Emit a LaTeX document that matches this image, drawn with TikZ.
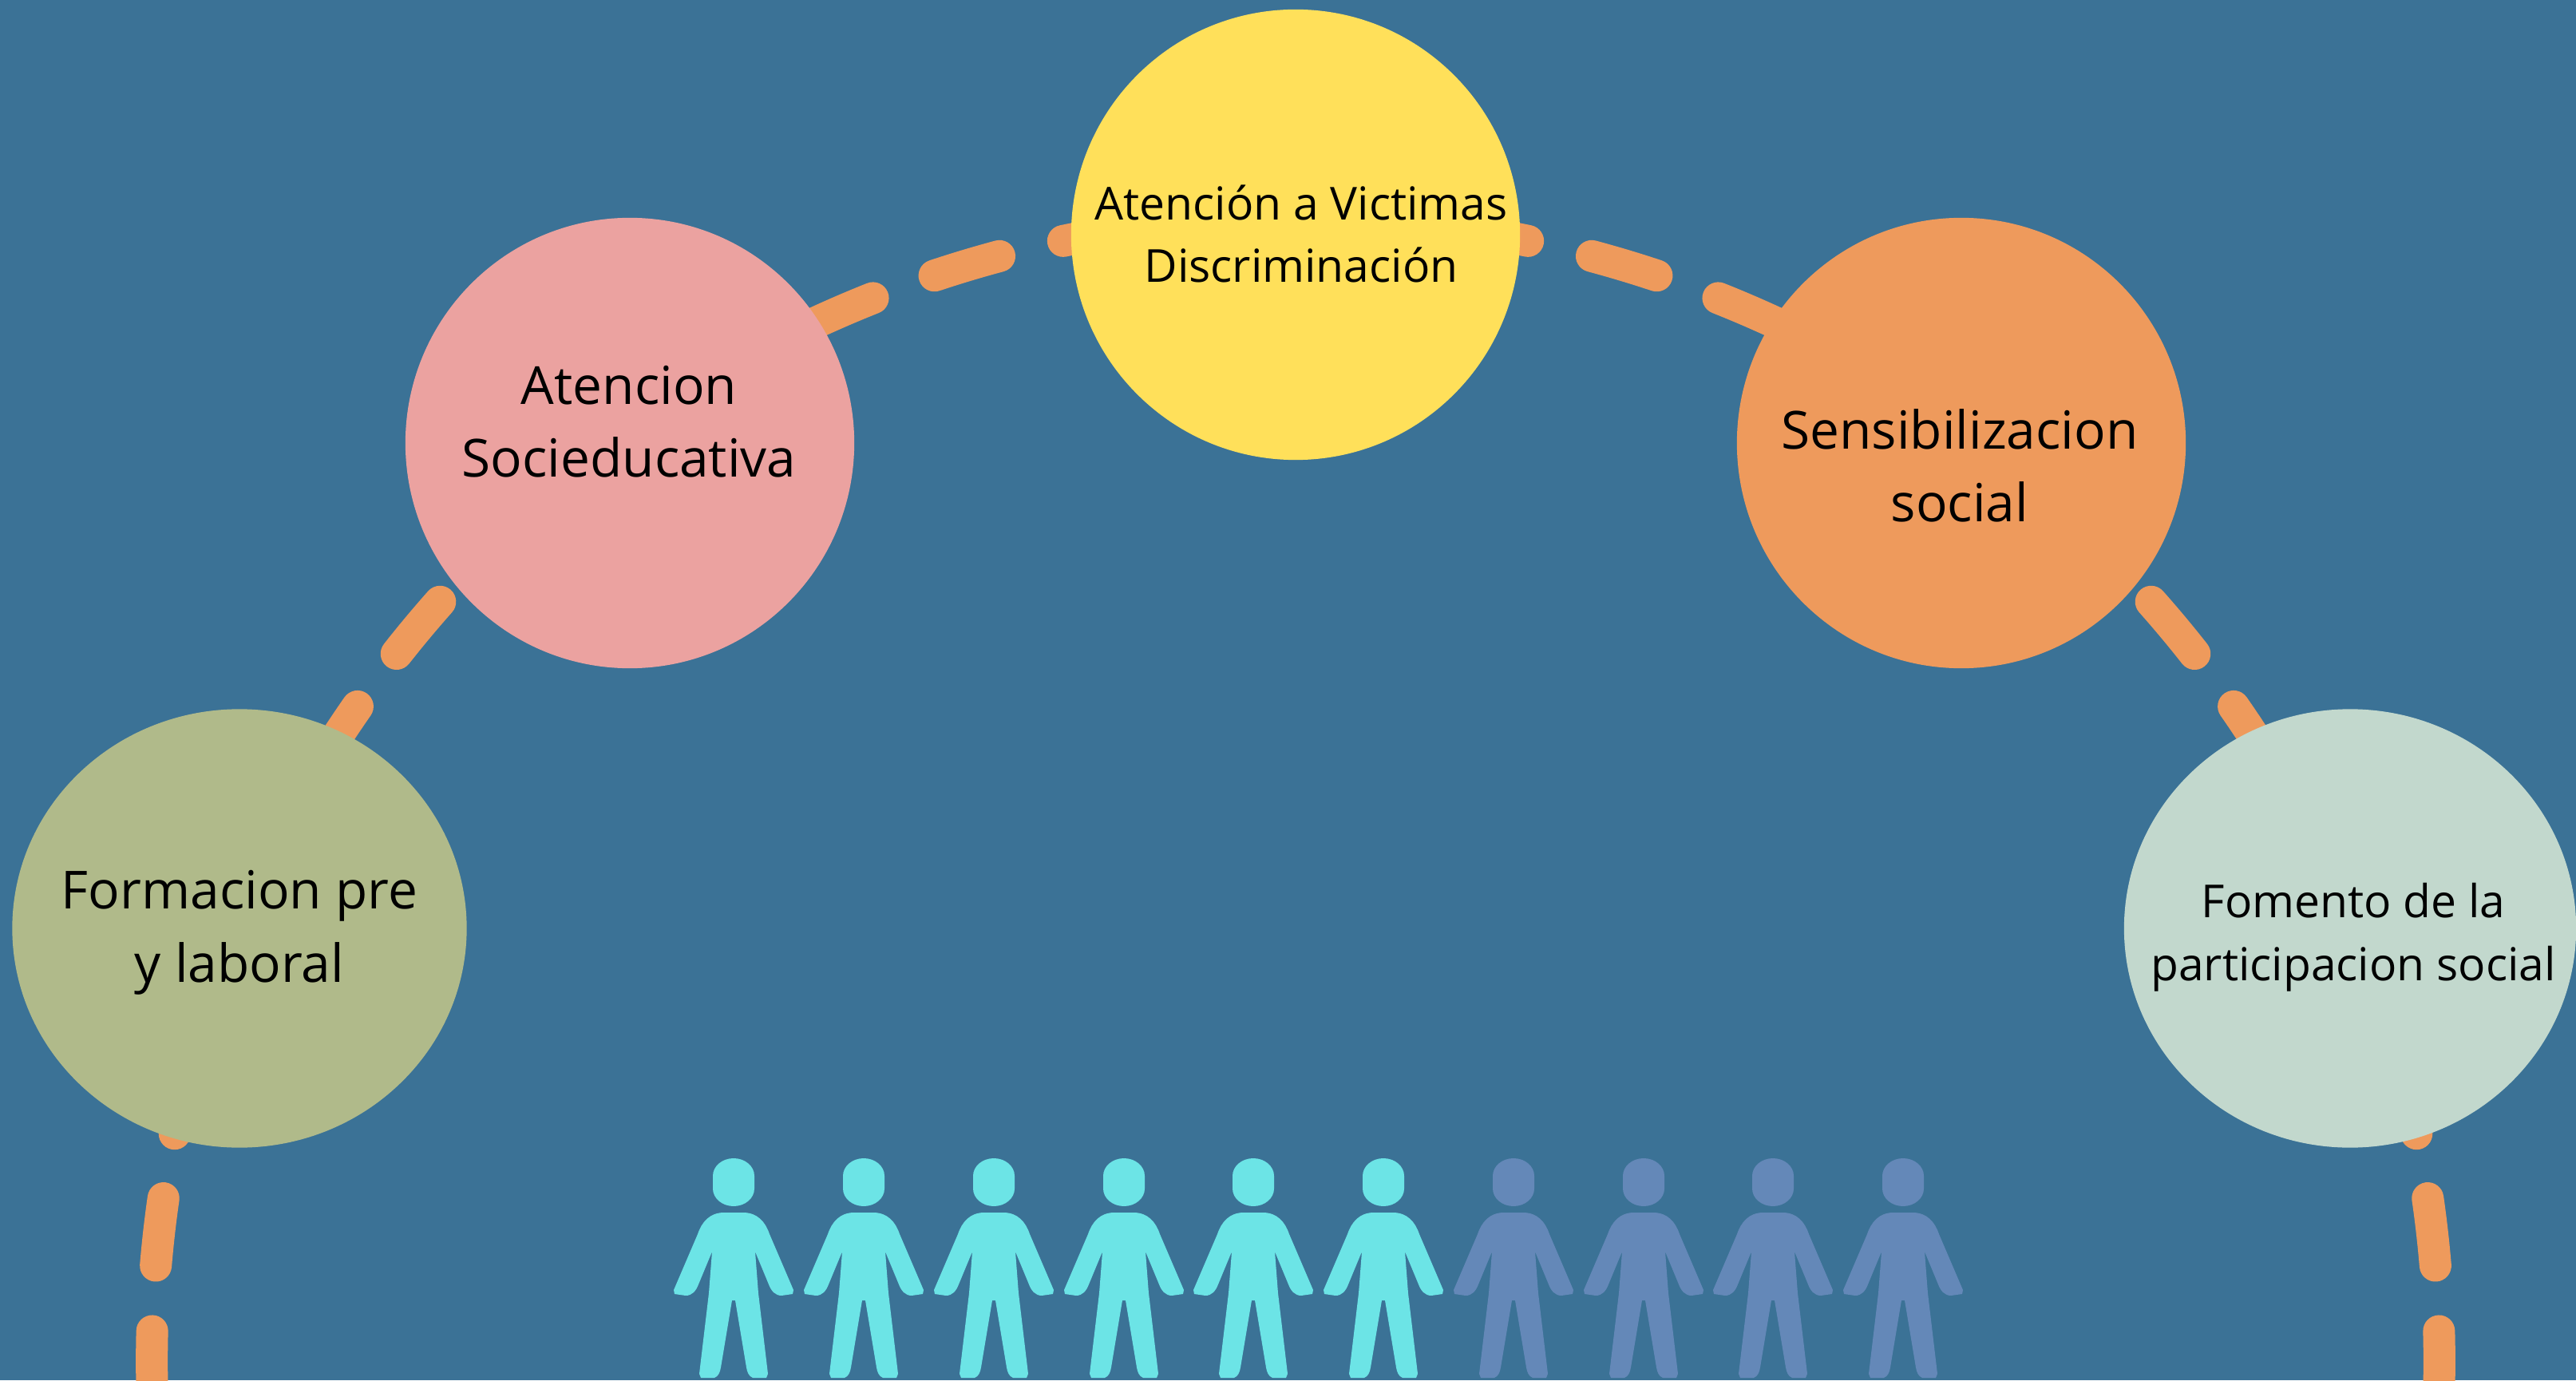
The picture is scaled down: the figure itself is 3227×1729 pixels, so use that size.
\documentclass[tikz,border=0pt]{standalone}
\usepackage{fontspec}
\usepackage{xcolor}
\usepackage{tikz}
\usetikzlibrary{shapes.geometric}
\setmainfont{Open Sans}
\definecolor{bgblue}{RGB}{59,114,150}
\definecolor{blobyellow}{RGB}{255,224,90}
\definecolor{blobpink}{RGB}{235,162,160}
\definecolor{bloborange}{RGB}{238,154,92}
\definecolor{blobgreen}{RGB}{176,186,138}
\definecolor{blobmint}{RGB}{194,216,205}
\definecolor{dashorange}{RGB}{238,154,92}
\definecolor{personcyan}{RGB}{108,228,230}
\definecolor{personblue}{RGB}{100,136,184}
\tikzstyle{blob} = [ellipse, inner sep=0pt, minimum width=5.62cm, minimum height=5.64cm]
\tikzstyle{bigtext} = [align=center, anchor=base, inner sep=0pt,
font=\fontsize{18.7pt}{26pt}\selectfont]
\tikzstyle{smalltext} = [align=center, anchor=base, inner sep=0pt,
font=\fontsize{16.2pt}{22.4pt}\selectfont]
\tikzstyle{dashline} = [draw=dashorange, line width=0.4cm, line cap=round,
dash pattern=on 0.85cm off 0.82cm, dash phase=1.26cm]
\tikzset{pics/person/.style={code={
    \fill (-26,-8) -- (-26,8) arc[start angle=180, end angle=0, x radius=26, y radius=22] -- (26,-8)
        arc[start angle=0, end angle=-180, x radius=26, y radius=22] -- cycle;
    \fill (0,-38) -- (12,-38) .. controls (30,-38) and (40,-50) .. (45,-65)
        -- (75,-135) -- (74,-140) -- (60,-142) .. controls (52,-142) and (47,-136) .. (44,-128)
        -- (27,-87) -- (31,-139) -- (43,-240) -- (41,-245) -- (24,-245)
        .. controls (19,-243) and (17,-238) .. (16,-232) -- (2,-148) -- (-2,-148)
        -- (-16,-232) .. controls (-17,-238) and (-19,-243) .. (-24,-245) -- (-41,-245)
        -- (-43,-240) -- (-31,-139) -- (-27,-87) -- (-44,-128)
        .. controls (-47,-136) and (-52,-142) .. (-60,-142) -- (-74,-140) -- (-75,-135)
        -- (-45,-65) .. controls (-40,-50) and (-30,-38) .. (-12,-38) -- cycle;
}}}
\begin{document}
\begin{tikzpicture}[x=0.01cm, y=0.01cm]
    \fill[bgblue] (0,0) rectangle (3227,1729);
    \clip (0,0) rectangle (3227,1729);
    \coordinate (arctop) at (1623,1457);
    \draw[dashline] (arctop) arc[start angle=90, end angle=183, radius=14.32cm];
    \draw[dashline] (arctop) arc[start angle=90, end angle=-3, radius=14.32cm];

    \node[blob, fill=blobyellow] (victimas) at (1623,1435) {};
    \node[blob, fill=blobpink] (socio) at (789,1174) {};
    \node[blob, fill=bloborange] (sensib) at (2457,1174) {};
    \node[blob, fill=blobgreen, minimum width=5.69cm, minimum height=5.49cm] (formacion) at (300,566) {};
    \node[blob, fill=blobmint, minimum width=5.66cm, minimum height=5.49cm] (fomento) at (2944,566) {};

    \node[smalltext] (victimastxt) at (1630,1375) {Atención a Victimas\\Discriminación};
    \node[bigtext] (sociotxt) at (788,1131) {Atencion\\Socieducativa};
    \node[bigtext] (sensibtxt) at (2455,1075) {Sensibilizacion\\social};
    \node[bigtext] (formaciontxt) at (300,499) {Formacion pre\\y laboral};
    \node[smalltext] (fomentotxt) at (2948,501) {Fomento de la\\participacion social};

    \pic[personcyan] at (919,248) {person};
    \pic[personcyan] at (1082,248) {person};
    \pic[personcyan] at (1245,248) {person};
    \pic[personcyan] at (1408,248) {person};
    \pic[personcyan] at (1570,248) {person};
    \pic[personcyan] at (1733,248) {person};
    \pic[personblue] at (1896,248) {person};
    \pic[personblue] at (2059,248) {person};
    \pic[personblue] at (2221,248) {person};
    \pic[personblue] at (2384,248) {person};
\end{tikzpicture}
\end{document}
